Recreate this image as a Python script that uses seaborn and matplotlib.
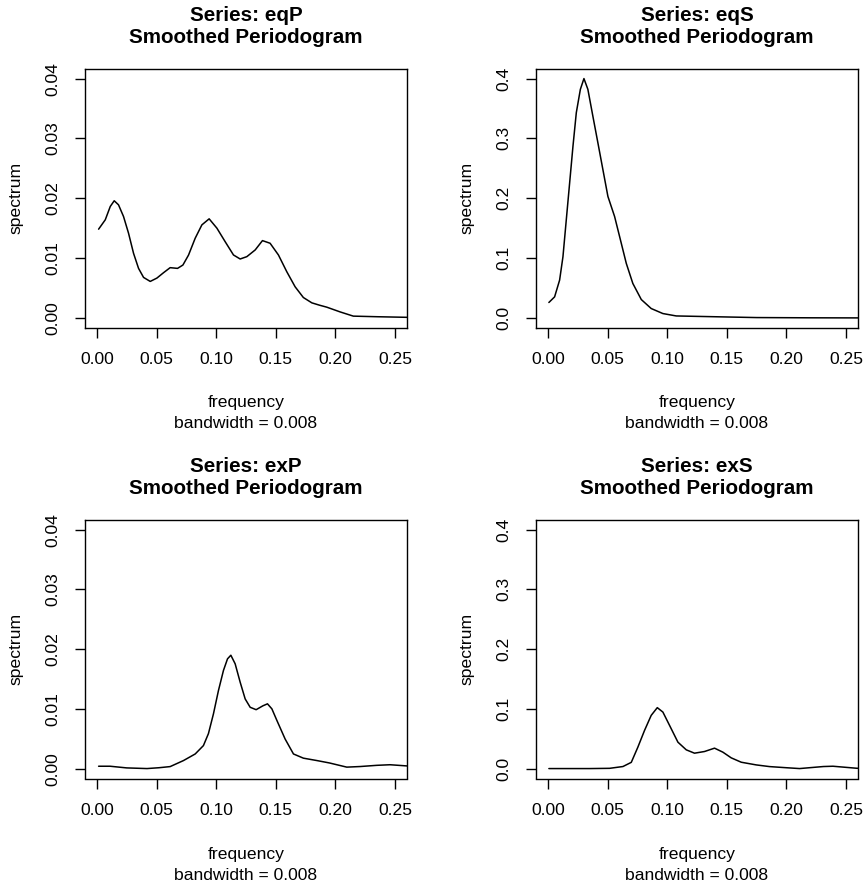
import numpy as np
import pandas as pd
import matplotlib
matplotlib.use("Agg")
import matplotlib.pyplot as plt
import seaborn as sns

# ---------------- data ----------------
series_names = ["eqP", "eqS", "exP", "exS"]

eqP_freq = [0.0014, 0.0070, 0.0112, 0.0145, 0.0181, 0.0223, 0.0265, 0.0307, 0.0349, 0.0391,
            0.0447, 0.0503, 0.0558, 0.0614, 0.0676, 0.0721, 0.0768, 0.0824, 0.0880, 0.0941,
            0.1006, 0.1075, 0.1145, 0.1201, 0.1257, 0.1327, 0.1388, 0.1452, 0.1522, 0.1592,
            0.1662, 0.1731, 0.1802, 0.1866, 0.1927, 0.204, 0.215, 0.235, 0.26, 0.27]
eqP_spec = [0.01483, 0.0164, 0.01863, 0.01958, 0.0189, 0.01695, 0.01416, 0.0108, 0.00828, 0.00677,
            0.0061, 0.00666, 0.00755, 0.0084, 0.00828, 0.00884, 0.0105, 0.01332, 0.01555, 0.01656,
            0.0150, 0.01275, 0.01052, 0.00985, 0.01024, 0.01136, 0.01292, 0.01248, 0.01052, 0.00772,
            0.0052, 0.00341, 0.00252, 0.00213, 0.0018, 0.0010, 0.0003, 0.0002, 0.0001, 0.0001]

eqS_freq = [0.0008, 0.0056, 0.0098, 0.0126, 0.0154, 0.0182, 0.0210, 0.0238, 0.0272, 0.0302,
            0.0335, 0.0377, 0.0419, 0.0461, 0.0503, 0.0559, 0.0601, 0.0657, 0.0712, 0.0783,
            0.0866, 0.0964, 0.1076, 0.147, 0.175, 0.22, 0.27]
eqS_spec = [0.0258, 0.0352, 0.0632, 0.1023, 0.164, 0.2255, 0.287, 0.343, 0.382, 0.400,
            0.382, 0.337, 0.2926, 0.2478, 0.203, 0.1695, 0.136, 0.0912, 0.0576, 0.0307,
            0.0157, 0.0073, 0.0033, 0.0017, 0.0006, 0.0002, 0.0]

exP_freq = [0.0014, 0.011, 0.025, 0.042, 0.052, 0.0614, 0.0726, 0.0824, 0.0893, 0.0935,
            0.0977, 0.1019, 0.1061, 0.1095, 0.1123, 0.1159, 0.1201, 0.1243, 0.1285, 0.1335,
            0.1391, 0.1430, 0.1467, 0.1509, 0.1578, 0.1648, 0.1731, 0.1844, 0.1949, 0.2095,
            0.2207, 0.2346, 0.2458, 0.26, 0.27]
exP_spec = [0.00045, 0.00045, 0.00017, 0.00006, 0.0002, 0.00039, 0.0014, 0.0025, 0.0039, 0.0059,
            0.0092, 0.0131, 0.01646, 0.0184, 0.0190, 0.01757, 0.0145, 0.0117, 0.0103, 0.0099,
            0.01054, 0.01088, 0.01004, 0.0081, 0.0050, 0.0025, 0.0018, 0.0014, 0.0010, 0.0003,
            0.0004, 0.0006, 0.0007, 0.0005, 0.0004]

exS_freq = [0.0008, 0.035, 0.0517, 0.0629, 0.0699, 0.0754, 0.0810, 0.0866, 0.0917, 0.0964,
            0.1020, 0.1090, 0.1160, 0.1229, 0.1313, 0.1397, 0.1467, 0.1537, 0.1621, 0.1747,
            0.1858, 0.200, 0.211, 0.231, 0.239, 0.259, 0.27]
exS_spec = [0.0006, 0.0006, 0.0010, 0.0040, 0.011, 0.0363, 0.0643, 0.0895, 0.1024, 0.0950,
            0.0727, 0.0447, 0.0319, 0.0263, 0.0291, 0.0347, 0.0280, 0.0185, 0.0112, 0.0067,
            0.0039, 0.0020, 0.0006, 0.0040, 0.0045, 0.0011, 0.0008]

x_ticks = [0.00, 0.05, 0.10, 0.15, 0.20, 0.25]
x_tick_labels = ["0.00", "0.05", "0.10", "0.15", "0.20", "0.25"]
yP_ticks = [0.00, 0.01, 0.02, 0.03, 0.04]
yP_tick_labels = ["0.00", "0.01", "0.02", "0.03", "0.04"]
yS_ticks = [0.0, 0.1, 0.2, 0.3, 0.4]
yS_tick_labels = ["0.0", "0.1", "0.2", "0.3", "0.4"]

bandwidth_label = "bandwidth = 0.008"

# ---------------- style ----------------
sns.set_style("white")
plt.rcParams['font.family'] = ['Liberation Sans', 'DejaVu Sans']
plt.rcParams['text.color'] = 'black'
plt.rcParams['xtick.color'] = 'black'
plt.rcParams['ytick.color'] = 'black'

W, H = 866, 885
fig = plt.figure(figsize=(W / 100, H / 100), dpi=100)

panels = [
    ("eqP", eqP_freq, eqP_spec, yP_ticks, yP_tick_labels, 0.04, (85, 69)),
    ("eqS", eqS_freq, eqS_spec, yS_ticks, yS_tick_labels, 0.4, (536, 69)),
    ("exP", exP_freq, exP_spec, yP_ticks, yP_tick_labels, 0.04, (85, 520)),
    ("exS", exS_freq, exS_spec, yS_ticks, yS_tick_labels, 0.4, (536, 520)),
]
aw, ah = 322, 258.5
LAB = 12.6
TIT = 14.9

for name, fr, sp, yt, ytl, ymax, (px, py) in panels:
    ax = fig.add_axes([px / W, (H - py - ah) / H, aw / W, ah / H])
    df = pd.DataFrame({"frequency": fr, "spectrum": sp})
    sns.lineplot(data=df, x="frequency", y="spectrum", ax=ax, color="black",
                 linewidth=1.1, estimator=None)
    xr = 0.25
    ax.set_xlim(-0.04 * xr, 1.04 * xr)
    ax.set_ylim(-0.04 * ymax, 1.04 * ymax)
    ax.set_xticks(x_ticks)
    ax.set_xticklabels(x_tick_labels)
    ax.set_yticks(yt)
    ax.set_yticklabels(ytl, rotation=90, va="center")
    ax.set_xlabel("")
    ax.set_ylabel("")
    for s in ax.spines.values():
        s.set_visible(True)
        s.set_color("black")
        s.set_linewidth(1.0)
    ax.tick_params(axis="both", direction="out", length=7.5, width=1.0,
                   colors="black", labelcolor="black", labelsize=LAB,
                   bottom=True, left=True)
    ax.tick_params(axis="x", pad=10)
    ax.tick_params(axis="y", pad=10)
    # titles
    ax.text(0.5, 1 + 48.3 / ah, f"Series: {name}", transform=ax.transAxes,
            ha="center", va="baseline", fontsize=TIT, fontweight="bold", color="black")
    ax.text(0.5, 1 + 26.3 / ah, "Smoothed Periodogram", transform=ax.transAxes,
            ha="center", va="baseline", fontsize=TIT, fontweight="bold", color="black")
    # x label lines
    ax.text(0.5, -80.0 / ah, "frequency", transform=ax.transAxes,
            ha="center", va="baseline", fontsize=LAB, color="black")
    ax.text(0.5, -101.0 / ah, bandwidth_label, transform=ax.transAxes,
            ha="center", va="baseline", fontsize=LAB, color="black")
    # y label
    ax.text(-69.3 / aw, 0.5, "spectrum", transform=ax.transAxes,
            ha="center", va="center", rotation=90, fontsize=LAB, color="black")

fig.savefig("out.png", dpi=100, facecolor="white")
